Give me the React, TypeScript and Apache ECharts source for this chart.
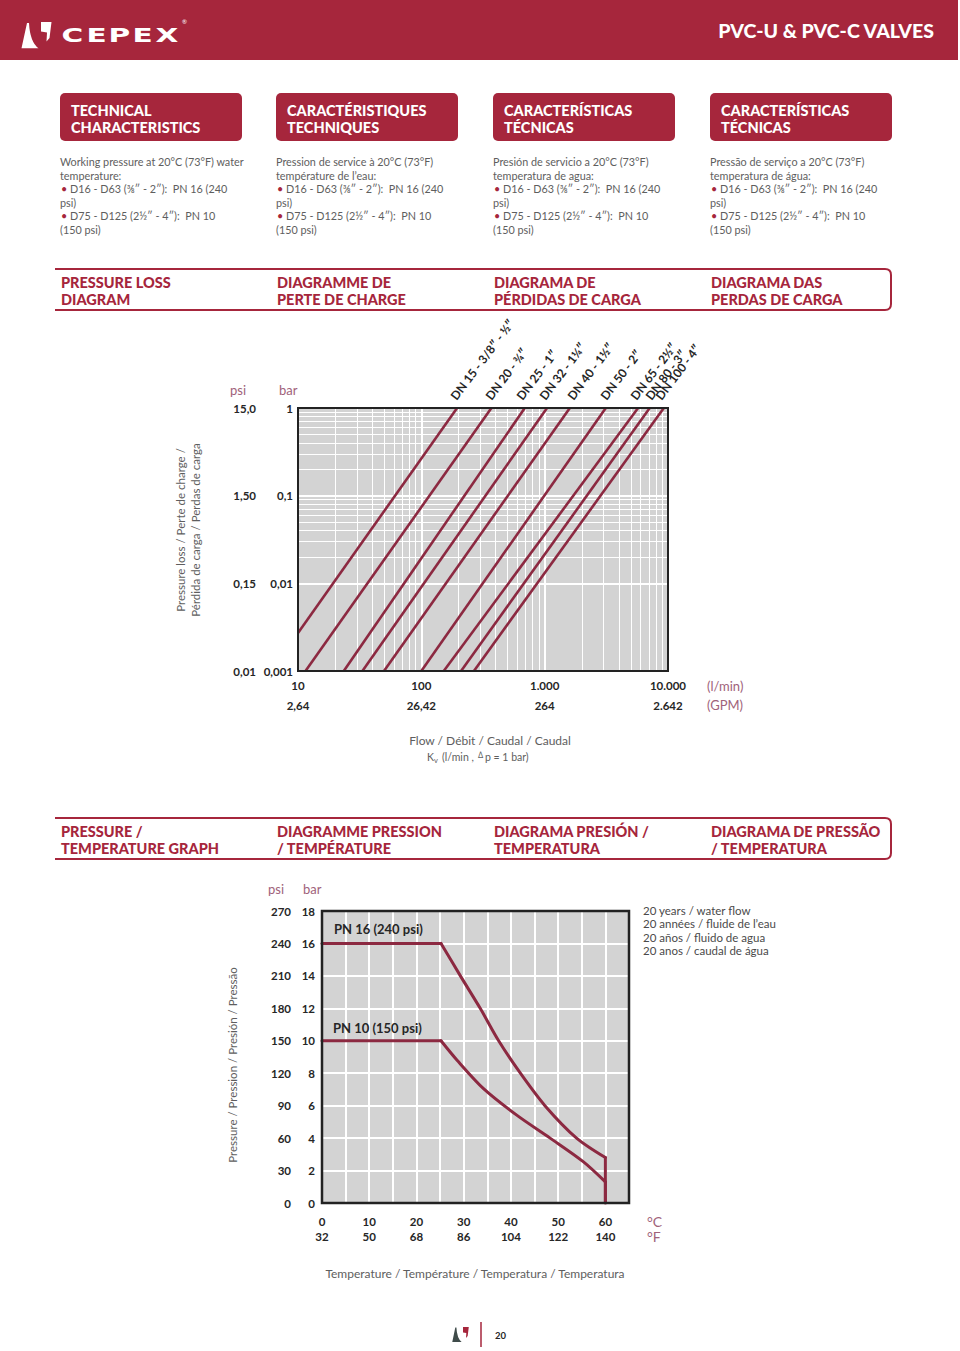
import React, { useEffect, useRef } from "react";
import * as echarts from "echarts";

// ---------- DATA ----------
// Pressure loss diagram (log-log): each DN line from its low end to its top end
const dnNames = ["DN 15 - 3/8″ - ½″", "DN 20 - ¾″", "DN 25 - 1″", "DN 32 - 1¼″", "DN 40 - 1½″", "DN 50 - 2″", "DN 65 - 2½″", "DN 80 - 3″", "DN 100 - 4″"];
const dnStartFlow = [10, 11.5, 23.5, 33.3, 49.8, 100, 152, 210, 267];
const dnStartLoss = [0.00272, 0.001, 0.001, 0.001, 0.001, 0.001, 0.001, 0.001, 0.001];
const dnEndFlow = [195, 370, 690, 1045, 1600, 3130, 5720, 7110, 9250];
const dnEndLoss = [1, 1, 1, 1, 1, 1, 1, 1, 1];

const flowLabels = ["10", "100", "1.000", "10.000"]; // 10^1..10^4 l/min
const gpmLabels = ["2,64", "26,42", "264", "2.642"];
const lossBarLabels = ["0,001", "0,01", "0,1", "1"]; // 10^-3..10^0 bar
const lossPsiLabels = ["0,01", "0,15", "1,50", "15,0"];
const flowMinor = [20, 30, 40, 50, 60, 70, 80, 90, 200, 300, 400, 500, 600, 700, 800, 900, 2000, 3000, 4000, 5000, 6000, 7000, 8000, 9000];
const lossMinor = [0.002, 0.003, 0.004, 0.005, 0.006, 0.007, 0.008, 0.009, 0.02, 0.03, 0.04, 0.05, 0.06, 0.07, 0.08, 0.09, 0.2, 0.3, 0.4, 0.5, 0.6, 0.7, 0.8, 0.9];

// Pressure / temperature graph: [°C, bar]
const pn16 = [[0, 16], [25.2, 16], [29.3, 14], [33.5, 12], [37.4, 10], [42, 8], [47.2, 6], [53.9, 4], [60, 2.8], [60, 0]];
const pn10 = [[0, 10], [25.2, 10], [28.6, 8.8], [34.2, 7.05], [41.3, 5.4], [48.3, 4.0], [55.3, 2.55], [60, 1.3], [60, 0]];
const tempCLabels = ["0", "10", "20", "30", "40", "50", "60"];
const tempFLabels = ["32", "50", "68", "86", "104", "122", "140"];
const ptBarLabels = ["0", "2", "4", "6", "8", "10", "12", "14", "16", "18"];
const ptPsiLabels = ["0", "30", "60", "90", "120", "150", "180", "210", "240", "270"];

// ---------- STYLE ----------
const RED = "#a6263c";
const LINE = "#8c2941";
const MAUVE = "#a0627a";
const GRAY = "#5e5e5e";
const DARK = "#262626";
const BG = "#d3d3d3";
const FF = 'Lato, "Open Sans", sans-serif';

type TOpt = { size?: number; weight?: string; color?: string; align?: string; valign?: string; rotation?: number; scaleX?: number; family?: string; z?: number };
const T = (text: string, x: number, y: number, o: TOpt = {}) => ({
  type: "text",
  x,
  y,
  z: o.z ?? 50,
  rotation: o.rotation ?? 0,
  scaleX: o.scaleX ?? 1,
  silent: true,
  style: {
    text,
    fontSize: o.size ?? 11,
    fontWeight: o.weight ?? "normal",
    fontFamily: o.family ?? FF,
    fill: o.color ?? GRAY,
    textAlign: o.align ?? "left",
    align: o.align ?? "left",
    textVerticalAlign: o.valign ?? "middle",
    verticalAlign: o.valign ?? "middle",
  },
});

const colX = [60, 276, 493, 710];
const boxTitles = [
  ["TECHNICAL", "CHARACTERISTICS"],
  ["CARACTÉRISTIQUES", "TECHNIQUES"],
  ["CARACTERÍSTICAS", "TÉCNICAS"],
  ["CARACTERÍSTICAS", "TÉCNICAS"],
];
const introLines = [
  ["Working pressure at 20°C (73°F) water", "temperature:"],
  ["Pression de service à 20°C (73°F)", "température de l’eau:"],
  ["Presión de servicio a 20°C (73°F)", "temperatura de agua:"],
  ["Pressão de serviço a 20°C (73°F)", "temperatura de água:"],
];
const sec1Titles = [
  ["PRESSURE LOSS", "DIAGRAM"],
  ["DIAGRAMME DE", "PERTE DE CHARGE"],
  ["DIAGRAMA DE", "PÉRDIDAS DE CARGA"],
  ["DIAGRAMA DAS", "PERDAS DE CARGA"],
];
const sec2Titles = [
  ["PRESSURE /", "TEMPERATURE GRAPH"],
  ["DIAGRAMME PRESSION", "/ TEMPÉRATURE"],
  ["DIAGRAMA PRESIÓN /", "TEMPERATURA"],
  ["DIAGRAMA DE PRESSÃO", "/ TEMPERATURA"],
];
const dnLabelX = [458, 493, 524, 547, 575, 608, 638, 653, 663];

function buildGraphics() {
  const g: any[] = [];
  // header
  g.push({ type: "rect", z: 1, silent: true, shape: { x: 0, y: 0, width: 958, height: 60 }, style: { fill: RED } });
  g.push({ type: "cpxL", x: 21, y: 22, z: 5, silent: true, style: { fill: "#fff" } });
  g.push({ type: "cpxR", x: 21, y: 22, z: 5, silent: true, style: { fill: "#fff" } });
  const letters = ["C", "E", "P", "E", "X"];
  const lx = [61.5, 86.5, 108.5, 132.5, 155.5];
  letters.forEach((l, i) => g.push(T(l, lx[i], 35.5, { size: 19.5, weight: "bold", color: "#fff", family: '"DejaVu Sans", sans-serif', scaleX: 1.52, z: 5 })));
  g.push(T("®", 182, 21, { size: 6, color: "#fff", z: 5 }));
  g.push(T("PVC-U & PVC-C VALVES", 934, 30.5, { size: 19.5, weight: "900", color: "#fff", align: "right", z: 5 }));

  // technical characteristics boxes
  colX.forEach((x, i) => {
    g.push({ type: "rect", z: 2, silent: true, shape: { x, y: 93, width: 182, height: 48, r: 5 }, style: { fill: RED } });
    g.push(T(boxTitles[i][0], x + 11, 110.5, { size: 14.5, weight: "900", color: "#fff" }));
    g.push(T(boxTitles[i][1], x + 11, 127, { size: 14.5, weight: "900", color: "#fff" }));
    const ly = [161, 175, 188.5, 202, 215.5, 229];
    g.push(T(introLines[i][0], x, ly[0], { size: 10.8 }));
    g.push(T(introLines[i][1], x, ly[1], { size: 10.8 }));
    g.push(T("•", x + 1, ly[2], { size: 10.8, color: RED }));
    g.push(T("D16 - D63 (⅜″ - 2″):  PN 16 (240", x + 10, ly[2], { size: 10.8 }));
    g.push(T("psi)", x, ly[3], { size: 10.8 }));
    g.push(T("•", x + 1, ly[4], { size: 10.8, color: RED }));
    g.push(T("D75 - D125 (2½″ - 4″):  PN 10", x + 10, ly[4], { size: 10.8 }));
    g.push(T("(150 psi)", x, ly[5], { size: 10.8 }));
  });

  // section headers
  [269, 818].forEach((y, s) => {
    g.push({ type: "hdrFrame", x: 55, y, z: 3, silent: true, style: { fill: "none", stroke: RED, lineWidth: 2 } });
    const titles = s === 0 ? sec1Titles : sec2Titles;
    colX.forEach((x, i) => {
      g.push(T(titles[i][0], x + 1, y + 13, { size: 14.5, weight: "900", color: RED }));
      g.push(T(titles[i][1], x + 1, y + 30, { size: 14.5, weight: "900", color: RED }));
    });
  });

  // pressure loss chart annotations
  g.push(T("psi", 230, 390, { size: 13, color: MAUVE }));
  g.push(T("bar", 279, 390, { size: 13, color: MAUVE }));
  dnNames.forEach((n, i) =>
    g.push(T(n, dnLabelX[i], 402, { size: 12, weight: "bold", color: DARK, valign: "bottom", rotation: (53 * Math.PI) / 180 }))
  );
  g.push({ type: "rect", z: 60, silent: true, shape: { x: 298, y: 408, width: 370, height: 263 }, style: { fill: "none", stroke: "#222", lineWidth: 2 } });
  g.push(T("Pressure loss / Perte de charge /", 180, 530, { size: 11.5, color: GRAY, align: "center", rotation: Math.PI / 2 }));
  g.push(T("Pérdida de carga / Perdas de carga", 195, 530, { size: 11.5, color: GRAY, align: "center", rotation: Math.PI / 2 }));
  g.push(T("(l/min)", 707, 686, { size: 13, color: MAUVE }));
  g.push(T("(GPM)", 707, 705, { size: 13, color: MAUVE }));
  g.push(T("Flow / Débit / Caudal / Caudal", 490, 740, { size: 12, color: GRAY, align: "center" }));
  g.push(T("K", 427, 757, { size: 10.5, color: GRAY }));
  g.push(T("v", 434, 760, { size: 7.5, color: GRAY }));
  g.push(T("(l/min ,", 442, 757, { size: 10.5, color: GRAY }));
  g.push(T("∆", 478, 754, { size: 9, color: GRAY }));
  g.push(T("p = 1 bar)", 485, 757, { size: 10.5, color: GRAY }));

  // pressure / temperature chart annotations
  g.push(T("psi", 268, 889, { size: 13, color: MAUVE }));
  g.push(T("bar", 303, 889, { size: 13, color: MAUVE }));
  g.push({ type: "rect", z: 60, silent: true, shape: { x: 322, y: 911, width: 307, height: 292 }, style: { fill: "none", stroke: "#222", lineWidth: 2.5 } });
  g.push(T("PN 16 (240 psi)", 334, 929, { size: 13, weight: "bold", color: DARK, z: 70 }));
  g.push(T("PN 10 (150 psi)", 333, 1028, { size: 13, weight: "bold", color: DARK, z: 70 }));
  ["20 years / water flow", "20 années / fluide de l’eau", "20 años / fluido de agua", "20 anos / caudal de água"].forEach((t, i) =>
    g.push(T(t, 643, 910 + i * 13.5, { size: 11.5, color: "#4a4a4a" }))
  );
  g.push(T("Pressure / Pression / Presión / Pressão", 232, 1065, { size: 11.5, color: GRAY, align: "center", rotation: Math.PI / 2 }));
  g.push(T("°C", 647, 1221, { size: 14, color: MAUVE }));
  g.push(T("°F", 647, 1236, { size: 14, color: MAUVE }));
  g.push(T("Temperature / Température / Temperatura / Temperatura", 475, 1273, { size: 12, color: GRAY, align: "center" }));

  // footer
  g.push({ type: "cpxL", x: 452, y: 1327, scaleX: 0.55, scaleY: 0.57, z: 5, silent: true, style: { fill: "#3f4b4a" } });
  g.push({ type: "cpxR", x: 452, y: 1327, scaleX: 0.55, scaleY: 0.57, z: 5, silent: true, style: { fill: RED } });
  g.push({ type: "line", z: 5, silent: true, shape: { x1: 481, y1: 1322, x2: 481, y2: 1347 }, style: { stroke: RED, lineWidth: 1.5 } });
  g.push(T("20", 495, 1335, { size: 9.5, weight: "bold", color: DARK }));
  return g;
}

function idxLog(v: number, offset: number) {
  return Math.round(Math.log10(v)) + offset;
}

const labelStyle = { fontFamily: FF, fontWeight: "bold" as const, fontSize: 11.5, color: DARK };

function buildOption(): any {
  const series: any[] = [];
  series.push({
    type: "line",
    xAxisIndex: 0,
    yAxisIndex: 0,
    data: [],
    z: 1,
    silent: true,
    markLine: {
      z: 1,
      silent: true,
      symbol: ["none", "none"],
      label: { show: false },
      lineStyle: { color: "#ffffff", width: 1, type: "solid" },
      emphasis: { disabled: true },
      data: [...flowMinor.map((v) => ({ xAxis: v })), ...lossMinor.map((v) => ({ yAxis: v }))],
    },
  });
  dnNames.forEach((n, i) => {
    series.push({
      name: n,
      type: "line",
      xAxisIndex: 0,
      yAxisIndex: 0,
      z: 4,
      silent: true,
      showSymbol: false,
      lineStyle: { color: LINE, width: 2.6 },
      data: [
        [dnStartFlow[i], dnStartLoss[i]],
        [dnEndFlow[i], dnEndLoss[i]],
      ],
    });
  });
  const ptSeries = (d: number[][], name: string) => [
    { name: name + " flat", data: d.slice(0, 2), smooth: false },
    { name: name + " curve", data: d.slice(1, -1), smooth: 0.3 },
    { name: name + " drop", data: d.slice(-2), smooth: false },
  ];
  [...ptSeries(pn16, "PN 16"), ...ptSeries(pn10, "PN 10")].forEach((s) =>
    series.push({
      ...s,
      type: "line",
      xAxisIndex: 2,
      yAxisIndex: 2,
      z: 4,
      silent: true,
      showSymbol: false,
      lineStyle: { color: LINE, width: 3, cap: "round", join: "round" },
    })
  );

  return {
    animation: false,
    backgroundColor: "#ffffff",
    grid: [
      { left: 298, top: 408, width: 370, height: 263, show: true, backgroundColor: BG, borderWidth: 0 },
      { left: 322, top: 911, width: 307, height: 292, show: true, backgroundColor: BG, borderWidth: 0 },
    ],
    xAxis: [
      {
        gridIndex: 0, type: "log", logBase: 10, min: 10, max: 10000, position: "bottom",
        axisLine: { show: false }, axisTick: { show: false },
        axisLabel: { ...labelStyle, margin: 8, formatter: (v: number) => flowLabels[idxLog(v, -1)] ?? "" },
        splitLine: { show: true, lineStyle: { color: "#ffffff", width: 2 } },
      },
      {
        gridIndex: 0, type: "log", logBase: 10, min: 10, max: 10000, position: "bottom", offset: 20,
        axisLine: { show: false }, axisTick: { show: false },
        axisLabel: { ...labelStyle, margin: 8, formatter: (v: number) => gpmLabels[idxLog(v, -1)] ?? "" },
        splitLine: { show: false },
      },
      {
        gridIndex: 1, type: "value", min: 0, max: 65, interval: 5, position: "bottom",
        axisLine: { show: false }, axisTick: { show: false },
        axisLabel: { ...labelStyle, margin: 12, formatter: (v: number) => (v % 10 === 0 ? tempCLabels[v / 10] ?? "" : "") },
        splitLine: { show: true, lineStyle: { color: "#ffffff", width: 2 } },
      },
      {
        gridIndex: 1, type: "value", min: 0, max: 65, interval: 5, position: "bottom", offset: 15,
        axisLine: { show: false }, axisTick: { show: false },
        axisLabel: { ...labelStyle, margin: 12, formatter: (v: number) => (v % 10 === 0 ? tempFLabels[v / 10] ?? "" : "") },
        splitLine: { show: false },
      },
    ],
    yAxis: [
      {
        gridIndex: 0, type: "log", logBase: 10, min: 0.001, max: 1, position: "left",
        axisLine: { show: false }, axisTick: { show: false },
        axisLabel: { ...labelStyle, margin: 5, formatter: (v: number) => lossBarLabels[idxLog(v, 3)] ?? "" },
        splitLine: { show: true, lineStyle: { color: "#ffffff", width: 2 } },
      },
      {
        gridIndex: 0, type: "log", logBase: 10, min: 0.001, max: 1, position: "left", offset: 37,
        axisLine: { show: false }, axisTick: { show: false },
        axisLabel: { ...labelStyle, margin: 5, formatter: (v: number) => lossPsiLabels[idxLog(v, 3)] ?? "" },
        splitLine: { show: false },
      },
      {
        gridIndex: 1, type: "value", min: 0, max: 18, interval: 2, position: "left",
        axisLine: { show: false }, axisTick: { show: false },
        axisLabel: { ...labelStyle, margin: 7, formatter: (v: number) => ptBarLabels[v / 2] ?? "" },
        splitLine: { show: true, lineStyle: { color: "#ffffff", width: 2 } },
      },
      {
        gridIndex: 1, type: "value", min: 0, max: 18, interval: 2, position: "left", offset: 24,
        axisLine: { show: false }, axisTick: { show: false },
        axisLabel: { ...labelStyle, margin: 7, formatter: (v: number) => ptPsiLabels[v / 2] ?? "" },
        splitLine: { show: false },
      },
    ],
    series,
    graphic: { elements: buildGraphics() },
  };
}

export default function App() {
  const ref = useRef<HTMLDivElement>(null);
  useEffect(() => {
    const G: any = (echarts as any).graphic;
    G.registerShape("cpxL", G.extendPath("M6 1 L8 1 Q9 20 17.5 26.3 L0.5 26.3 Z", {}));
    G.registerShape("cpxR", G.extendPath("M20 0 L30.5 0 L28.5 16 L25.5 19.5 L26 10.5 L20 9.5 Z", {}));
    G.registerShape("hdrFrame", G.extendPath("M0 0 L830 0 Q836 0 836 6 L836 35 Q836 41 830 41 L0 41", {}));
    const chart = echarts.init(ref.current as HTMLDivElement, null, { renderer: "svg" });
    chart.setOption(buildOption());
    return () => chart.dispose();
  }, []);
  return (
    <div style={{ position: "absolute", left: 0, top: 0, width: 960, height: 1351, background: "#fff" }}>
      <div ref={ref} style={{ width: 960, height: 1351 }} />
    </div>
  );
}
